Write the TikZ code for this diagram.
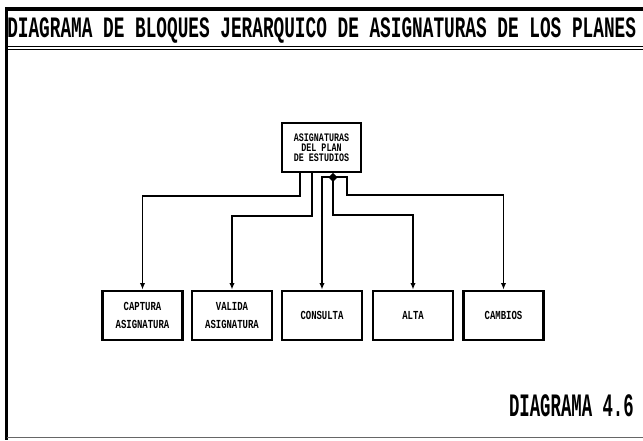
\documentclass[tikz,border=0pt]{standalone}
\usepackage{fontspec}
\newfontfamily\titlefont[FakeStretch=0.6]{Liberation Mono}
\newfontfamily\labelfont[FakeStretch=0.53]{Liberation Mono}
\newfontfamily\boxfont[FakeStretch=0.73]{Liberation Mono}
\usetikzlibrary{arrows.meta,shapes.geometric,calc,positioning}

\begin{document}
\begin{tikzpicture}[x=0.75pt,y=-0.75pt,
  bloque/.style={draw=black,line width=2pt,inner sep=0pt,minimum width=60pt,minimum height=36.75pt,align=center,
    font=\boxfont\bfseries\fontsize{9.2}{13.5}\selectfont},
  conn/.style={line width=1.3pt,-{Latex[length=5pt,width=4pt]}},
  hub/.style={diamond,fill=black,minimum size=7pt,inner sep=0pt}]
\useasboundingbox (0,0) rectangle (643,440);
% marco
\draw[line width=2.8pt] (5,9) -- (643,9);
\draw[line width=2.2pt] (6.5,8) -- (6.5,440);
\draw[line width=0.8pt] (7,46.8) -- (643,46.8);
\draw[line width=0.8pt] (7,49.8) -- (643,49.8);
\draw[line width=0.6pt,black!60] (7,437.5) -- (643,437.5);
\node[anchor=base west,inner sep=0pt,font=\titlefont\bfseries\fontsize{22.2}{24}\selectfont](titulo) at (7,37) {DIAGRAMA DE BLOQUES JERARQUICO DE ASIGNATURAS DE LOS PLANES};
\node[anchor=base east,inner sep=0pt,font=\labelfont\bfseries\fontsize{24.5}{26}\selectfont](numero) at (634,416) {DIAGRAMA 4.6};

% bloques
\node[bloque,minimum width=59.25pt,font=\boxfont\bfseries\fontsize{8.6}{7.4}\selectfont](asig) at (321.5,147.5) {ASIGNATURAS\\DEL PLAN\\DE ESTUDIOS};
\node[bloque](captura) at (142.5,315.5) {CAPTURA\\ASIGNATURA};
\node[bloque](valida) at (232,315.5) {VALIDA\\ASIGNATURA};
\node[bloque](consulta) at (322,315.5) {CONSULTA};
\node[bloque](alta) at (413,315.5) {ALTA};
\node[bloque](cambios) at (503.5,315.5) {CAMBIOS};

% conexiones
\coordinate (o1) at ($(asig.south)+(-21.5,0)$);
\coordinate (o2) at ($(asig.south)+(-9.5,0)$);
\node[hub](nodo) at ($(asig.south)+(11.5,4)$) {};
\draw[conn] (o1) -- ++(0,23) -| (captura.north);
\draw[conn] (o2) -- ++(0,43) -| (valida.north);
\draw[conn] (nodo.center) -| (consulta.north);
\draw[conn] (nodo.center) -- ++(0,38) -| (alta.north);
\draw[conn] (nodo.center) -- ++(14,0) -- ++(0,18) -| (cambios.north);
\end{tikzpicture}
\end{document}
